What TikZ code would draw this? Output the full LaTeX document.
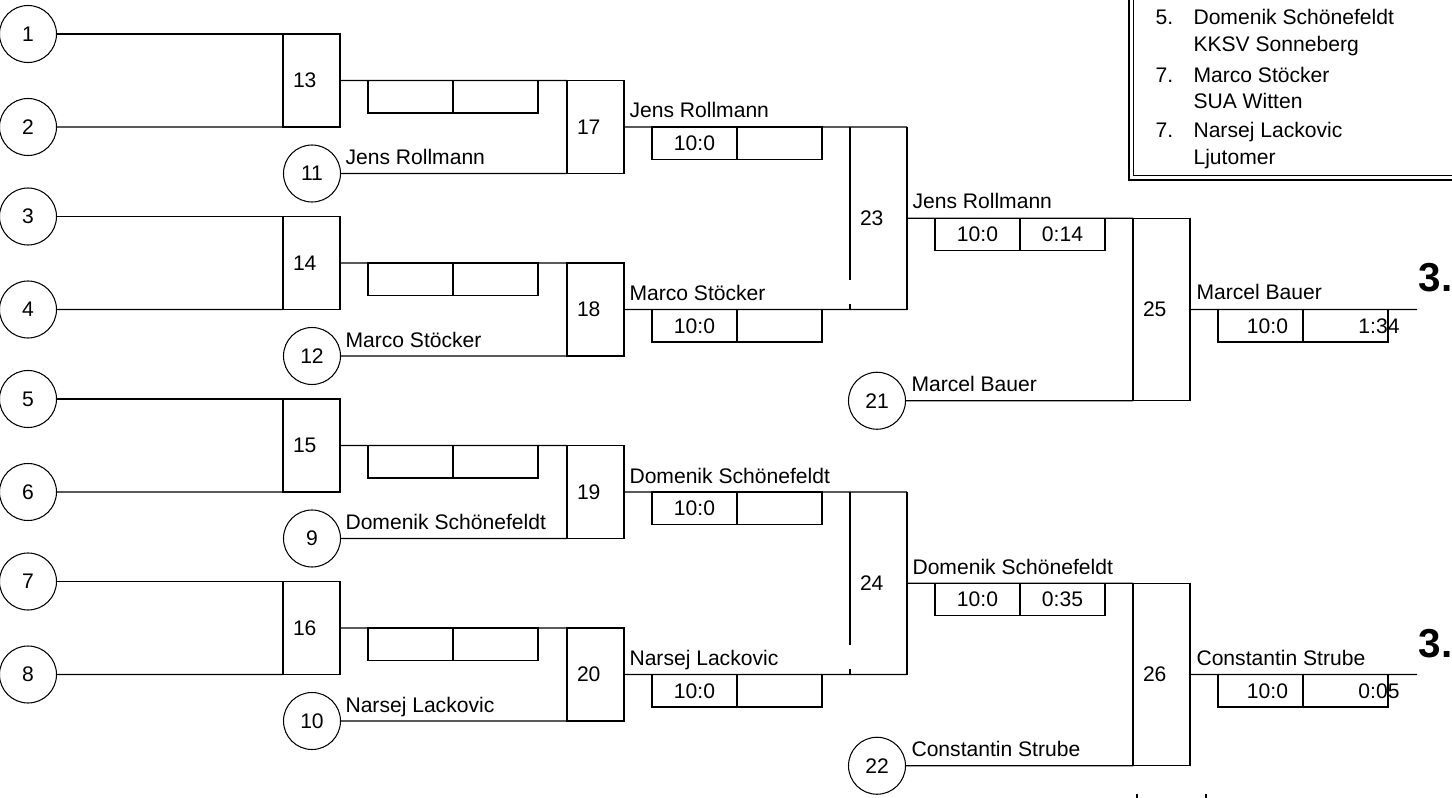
\documentclass[tikz,border=0pt]{standalone}
\usepackage{fontspec}
\setmainfont{Liberation Sans}

\tikzset{
  seed/.style={circle, draw, minimum size=11.4mm, inner sep=0pt, outer sep=0pt},
  pairing/.style={draw, anchor=north west, minimum height=18.6mm, text width=7.4mm, inner xsep=2mm, inner ysep=0pt, outer sep=0pt, align=left},
  bigpairing/.style={pairing, minimum height=36.5mm},
  cell/.style={draw, anchor=north west, minimum width=17mm, minimum height=6.5mm, inner sep=0pt, outer sep=0pt},
  player/.style={anchor=base west, inner sep=0pt},
  place/.style={anchor=base west, inner sep=0pt, font=\bfseries\fontsize{23}{26}\selectfont},
}

\begin{document}
\begin{tikzpicture}[x=0.2mm, y=-0.2mm, line width=0.6pt, font=\fontsize{12}{14}\selectfont]
				\useasboundingbox (0,0) rectangle (1452,798);
				\clip (0,0) rectangle (1452,798);

				% erste Runde, obere Haelfte
				\node[seed] (c1) at (28,34) {1};
				\node[seed] (c2) at (28,127) {2};
				\node[seed] (c3) at (28,216.5) {3};
				\node[seed] (c4) at (28,309.5) {4};
				\node[pairing] (b13) at (283,34) {13};
				\node[pairing] (b14) at (283,216.5) {14};
				\draw (c1) -- (b13.north west);
				\draw (c2) -- (b13.south west);
				\draw (c3) -- (b14.north west);
				\draw (c4) -- (b14.south west);

				% zweite Runde, obere Haelfte
				\node[pairing] (b17) at (567,80.5) {17};
				\node[pairing] (b18) at (567,263) {18};
				\node[seed] (c11) at (312,173.5) {11};
				\node[seed] (c12) at (312,356) {12};
				\draw (b13) -- (b17.north west);
				\draw (c11) -- (b17.south west);
				\draw (b14) -- (b18.north west);
				\draw (c12) -- (b18.south west);
				\node[cell] (s13a) at (368,80.5) {};
				\node[cell] (s13b) at (453,80.5) {};
				\node[cell] (s14a) at (368,263) {};
				\node[cell] (s14b) at (453,263) {};
				\node[player] (n11) at (345,164.5) {Jens Rollmann};
				\node[player] (n12) at (345,347) {Marco Stöcker};

				% dritte Runde, obere Haelfte
				\node[bigpairing, draw=none] (b23) at (850,127) {23};
				\draw (b17) -- (b23.north east);
				\draw (b18) -- (b23.south east);
				\draw (b23.north east) -- (b23.south east);
				\draw (b23.north west) -- ++(0,153);
				\draw (b23.south west) -- ++(0,-6);
				\node[cell] (s17a) at (652,127) {10:0};
				\node[cell] (s17b) at (737,127) {};
				\node[cell] (s18a) at (652,309.5) {10:0};
				\node[cell] (s18b) at (737,309.5) {};
				\node[player] (n17) at (629,118) {Jens Rollmann};
				\node[player] (n18) at (629,300.5) {Marco Stöcker};

				% vierte Runde, obere Haelfte
				\node[bigpairing] (b25) at (1133,218.25) {25};
				\node[seed] (c21) at (877,400.75) {21};
				\draw (b23) -- (b25.north west);
				\draw (c21) -- (b25.south west);
				\node[cell] (s23a) at (935,218.25) {10:0};
				\node[cell] (s23b) at (1020,218.25) {0:14};
				\node[player] (n23) at (912,209) {Jens Rollmann};
				\node[player] (n21) at (911,391.5) {Marcel Bauer};

				% Platz 3 oben
				\coordinate (w25) at (1417,309.5);
				\draw (b25) -- (w25);
				\node[cell] (s25a) at (1218,309.5) {};
				\node[cell] (s25b) at (1303,309.5) {};
				\node (t25a) at (1267.5,326) {10:0};
				\node[anchor=east, inner sep=0pt] (t25b) at (1400,326) {1:34};
				\node[player] (n25) at (1196,300) {Marcel Bauer};
				\node[place] (p25) at (1418,292) {3.};

				% erste Runde, untere Haelfte
				\node[seed] (c5) at (28,399) {5};
				\node[seed] (c6) at (28,492) {6};
				\node[seed] (c7) at (28,581.5) {7};
				\node[seed] (c8) at (28,674.5) {8};
				\node[pairing] (b15) at (283,399) {15};
				\node[pairing] (b16) at (283,581.5) {16};
				\draw (c5) -- (b15.north west);
				\draw (c6) -- (b15.south west);
				\draw (c7) -- (b16.north west);
				\draw (c8) -- (b16.south west);

				% zweite Runde, untere Haelfte
				\node[pairing] (b19) at (567,445.5) {19};
				\node[pairing] (b20) at (567,628) {20};
				\node[seed] (c9) at (312,538.5) {9};
				\node[seed] (c10) at (312,721) {10};
				\draw (b15) -- (b19.north west);
				\draw (c9) -- (b19.south west);
				\draw (b16) -- (b20.north west);
				\draw (c10) -- (b20.south west);
				\node[cell] (s15a) at (368,445.5) {};
				\node[cell] (s15b) at (453,445.5) {};
				\node[cell] (s16a) at (368,628) {};
				\node[cell] (s16b) at (453,628) {};
				\node[player] (n9) at (345,529.5) {Domenik Schönefeldt};
				\node[player] (n10) at (345,712) {Narsej Lackovic};

				% dritte Runde, untere Haelfte
				\node[bigpairing, draw=none] (b24) at (850,492) {24};
				\draw (b19) -- (b24.north east);
				\draw (b20) -- (b24.south east);
				\draw (b24.north east) -- (b24.south east);
				\draw (b24.north west) -- ++(0,153);
				\draw (b24.south west) -- ++(0,-6);
				\node[cell] (s19a) at (652,492) {10:0};
				\node[cell] (s19b) at (737,492) {};
				\node[cell] (s20a) at (652,674.5) {10:0};
				\node[cell] (s20b) at (737,674.5) {};
				\node[player] (n19) at (629,483) {Domenik Schönefeldt};
				\node[player] (n20) at (629,665.5) {Narsej Lackovic};

				% vierte Runde, untere Haelfte
				\node[bigpairing] (b26) at (1133,583.25) {26};
				\node[seed] (c22) at (877,765.75) {22};
				\draw (b24) -- (b26.north west);
				\draw (c22) -- (b26.south west);
				\node[cell] (s24a) at (935,583.25) {10:0};
				\node[cell] (s24b) at (1020,583.25) {0:35};
				\node[player] (n24) at (912,574) {Domenik Schönefeldt};
				\node[player] (n22) at (911,756.5) {Constantin Strube};

				% Platz 3 unten
				\coordinate (w26) at (1417,674.5);
				\draw (b26) -- (w26);
				\node[cell] (s26a) at (1218,674.5) {};
				\node[cell] (s26b) at (1303,674.5) {};
				\node (t26a) at (1267.5,691) {10:0};
				\node[anchor=east, inner sep=0pt] (t26b) at (1400,691) {0:05};
				\node[player] (n26) at (1196,665) {Constantin Strube};
				\node[place] (p26) at (1418,657) {3.};

				% Rangliste
				\draw[double, double distance=0.6mm] (1131,-20) rectangle (1480,178);
				\node[player] (l1) at (1155,25) {5.};
				\node[player] (l2) at (1193,25) {Domenik Schönefeldt};
				\node[player] (l3) at (1193,52) {KKSV Sonneberg};
				\node[player] (l4) at (1155,83) {7.};
				\node[player] (l5) at (1193,83) {Marco Stöcker};
				\node[player] (l6) at (1193,109) {SUA Witten};
				\node[player] (l7) at (1155,138) {7.};
				\node[player] (l8) at (1193,138) {Narsej Lackovic};
				\node[player] (l9) at (1193,165) {Ljutomer};

				\draw[line width=1pt] (1137,794) -- (1137,800);
				\draw[line width=1pt] (1206,794) -- (1206,800);
\end{tikzpicture}
\end{document}
